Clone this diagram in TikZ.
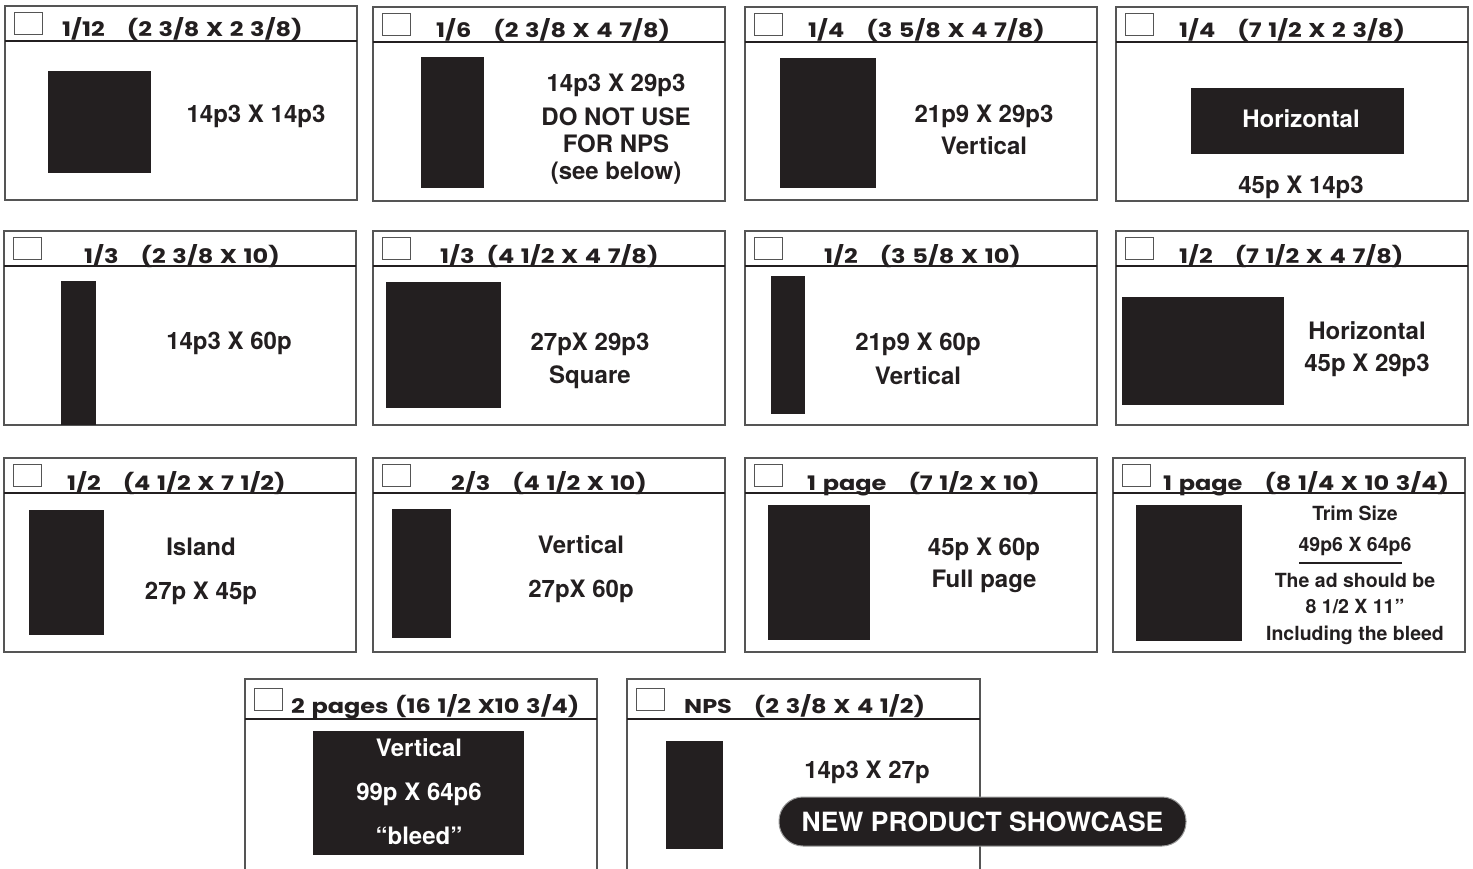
\documentclass[tikz,border=0pt]{standalone}
\usepackage{fontspec}
\setmainfont{TeX Gyre Heros}
\newfontfamily\headfont[FakeStretch=1.2,WordSpace=1.3]{Poppins}
\definecolor{adblack}{HTML}{231F20}
\definecolor{framegray}{HTML}{555555}
\begin{document}
\begin{tikzpicture}[x=1pt,y=-1pt,
  frame/.style={draw=framegray,line width=1.3pt},
  rule/.style={draw=adblack,line width=2pt},
  tickbox/.style={draw=framegray,line width=.8pt},
  ad/.style={fill=adblack},
  head/.style={anchor=base west,inner sep=0,text=adblack,font=\headfont\bfseries\fontsize{20}{20}\selectfont},
  lbl/.style={anchor=base,inner sep=0,text=adblack,font=\bfseries\fontsize{24}{24}\selectfont},
  small/.style={lbl,font=\bfseries\fontsize{19.5}{19.5}\selectfont},
  pill/.style={fill=adblack,draw=black!40,line width=1pt,rounded corners=24pt,
    minimum width=407pt,minimum height=49pt,inner sep=0,text=white,
    font=\bfseries\fontsize{26.5}{26.5}\selectfont}]
  \useasboundingbox (0,0) rectangle (1473,869);
  \fill[white] (0,0) rectangle (1473,869);
  % closed frames, rows 1--3
  \foreach \l/\t/\b in {5/6/200,373/7/201,745/7/200,1116/7/201,
      4/231/425,373/231/425,745/231/425,1116/231/425,
      4/458/652,373/458/652,745/458/652,1113/458/652}{
    \draw[frame] (\l,\t) rectangle (\l+352,\b);
    \draw[rule] (\l,\t+35) -- (\l+352,\t+35);
    \draw[tickbox] (\l+9,\t+6) rectangle (\l+37,\t+28);
  }
  % open frames, row 4
  \foreach \l/\r in {245/597,627/980}{
    \draw[frame] (\l,869) -- (\l,679) -- (\r,679) -- (\r,869);
    \draw[rule] (\l,719) -- (\r,719);
    \draw[tickbox] (\l+9,688) rectangle (\l+37,710);
  }
  % ad blocks
  \foreach \a/\b/\c/\d in {48/71/151/173,421/57/484/188,780/58/876/188,1191/88/1404/154,
      61/281/96/425,386/282/501/408,771/276/805/414,1122/297/1284/405,
      29/510/104/635,392/509/451/638,768/505/870/640,1136/505/1242/641,
      313/731/524/855,666/741/723/849}
    \fill[ad] (\a,\b) rectangle (\c,\d);
  % headers
  \foreach \x/\y/\s [count=\i] in {
      62/37/{1/12\hspace{22pt}(2 3/8 X 2 3/8)},
      436/38/{1/6\hspace{22pt}(2 3/8 X 4 7/8)},
      808/38/{1/4\hspace{22pt}(3 5/8 X 4 7/8)},
      1179/38/{1/4\hspace{22pt}(7 1/2 X 2 3/8)},
      84/263/{1/3\hspace{22pt}(2 3/8 X 10)},
      440/263/{1/3\hspace{12pt}(4 1/2 X 4 7/8)},
      824/263/{1/2\hspace{22pt}(3 5/8 X 10)},
      1179/263/{1/2\hspace{22pt}(7 1/2 X 4 7/8)},
      67/490/{1/2\hspace{22pt}(4 1/2 X 7 1/2)},
      451/490/{2/3\hspace{22pt}(4 1/2 X 10)},
      807/490/{1 page\hspace{22pt}(7 1/2 X 10)},
      1163/490/{1 page\hspace{22pt}(8 1/4 X 10 3/4)},
      291/713/{2 pages (16 1/2 X10 3/4)},
      684/713/{NPS\hspace{22pt}(2 3/8 X 4 1/2)}}
    \node[head] (h\i) at (\x,\y) {\s};
  % sizes and notes
  \foreach \x/\y/\s [count=\i] in {
      256/123/{14p3 X 14p3},616/92/{14p3 X 29p3},616/126/{DO NOT USE},
      616/153/{FOR NPS},616/180/{(see below)},984/123/{21p9 X 29p3},
      984/155/{Vertical},1301/194/{45p X 14p3},
      229/349/{14p3 X 60p},590/350/{27pX 29p3},590/383/{Square},
      918/350/{21p9 X 60p},918/384/{Vertical},1367/339/{Horizontal},
      1367/371/{45p X 29p3},
      201/555/{Island},201/599/{27p X 45p},581/553/{Vertical},
      581/597/{27pX 60p},984/555/{45p X 60p},984/587/{Full page},
      867/778/{14p3 X 27p}}
    \node[lbl] (t\i) at (\x,\y) {\s};
  \foreach \y/\s [count=\i] in {520/{Trim Size},551/{49p6 X 64p6},587/{The ad should be},
      613/{8 1/2 X 11”},640/{Including the bleed}}
    \node[small] (trim\i) at (1355,\y) {\s};
  \draw[adblack,line width=1.6pt] (1299,563) -- (1402,563);
  % white text on the blocks
  \node[lbl,text=white] (horiz) at (1301,128) {Horizontal};
  \foreach \y/\s [count=\i] in {756/{Vertical},800/{99p X 64p6},844/{“bleed”}}
    \node[lbl,text=white] (spread\i) at (419,\y) {\s};
  \node[pill] (nps) at (982.5,821.5) {NEW PRODUCT SHOWCASE};
\end{tikzpicture}
\end{document}
